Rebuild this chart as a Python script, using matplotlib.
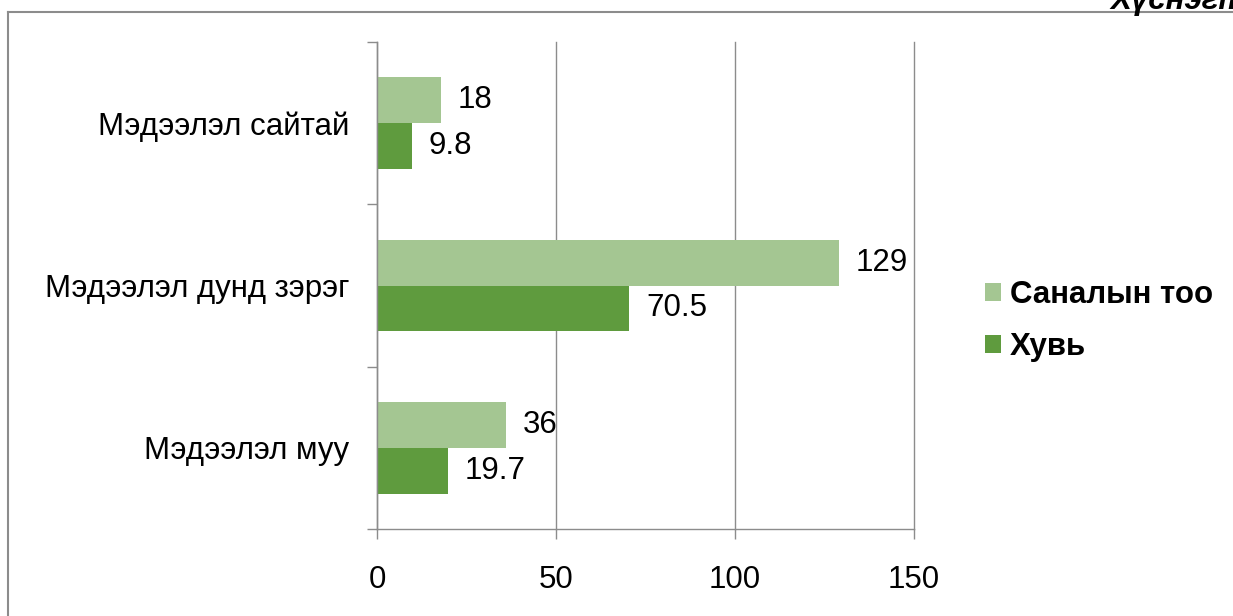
import numpy as np
import matplotlib
matplotlib.use('Agg')
import matplotlib.pyplot as plt
from matplotlib.lines import Line2D

plt.rcParams['font.family'] = ['Liberation Sans', 'DejaVu Sans']

categories = ['Мэдээлэл сайтай', 'Мэдээлэл дунд зэрэг', 'Мэдээлэл муу']
votes = [18, 129, 36]
percent = [9.8, 70.5, 19.7]
series_names = ['Саналын тоо', 'Хувь']
xticks = [0, 50, 100, 150]

light = '#A4C692'
dark = '#5F9B3E'
gray = '#8C8C8C'
fs = 22.5

fig = plt.figure(figsize=(12.33, 6.16), dpi=100)
ax = fig.add_axes([377/1233, 1-529/616, (914-377)/1233, (529-42)/616])

y = np.arange(len(categories))
h = 0.283
b1 = ax.barh(y - h/2, votes, height=h, color=light, label=series_names[0])
b2 = ax.barh(y + h/2, percent, height=h, color=dark, label=series_names[1])

for bars, vals in ((b1, votes), (b2, percent)):
    for r, v in zip(bars, vals):
        ax.annotate(f'{v:g}', (r.get_width(), r.get_y() + r.get_height()/2),
                    xytext=(12, 0), textcoords='offset points',
                    ha='left', va='center', fontsize=fs)

ax.set_xlim(0, 150)
ax.set_ylim(2.5, -0.5)
ax.set_xticks(xticks)
ax.set_yticks(y)
ax.set_yticklabels(categories)
ax.set_yticks([-0.5, 0.5, 1.5, 2.5], minor=True)
ax.tick_params(axis='y', which='major', length=0, pad=20, labelsize=fs)
ax.tick_params(axis='y', which='minor', length=7, color=gray, width=1)
ax.tick_params(axis='x', length=7, color=gray, width=1, pad=19, labelsize=fs)
ax.grid(axis='x', color=gray, lw=1)
for gl in ax.get_xgridlines():
    gl.set_clip_on(False)
ax.set_axisbelow(True)
for s in ('top', 'right'):
    ax.spines[s].set_visible(False)
for s in ('left', 'bottom'):
    ax.spines[s].set_color(gray)
    ax.spines[s].set_linewidth(1)

leg = fig.legend(handles=[b1, b2], loc='center left', bbox_to_anchor=(985/1233, 1-321/616),
                 frameon=False, prop={'weight': 'bold', 'size': fs},
                 borderpad=0, borderaxespad=0,
                 handlelength=0.5, handleheight=0.5, handletextpad=0.3, labelspacing=0.72)

# outer frame (cut off on right and bottom)
fig.add_artist(Line2D([8/1233, 1], [1-12/616, 1-12/616], color=gray, lw=1.5))
fig.add_artist(Line2D([8/1233, 8/1233], [0, 1-12/616], color=gray, lw=1.5))

fig.text(1110/1233, 1 - 9/616, 'Хүснэгт', ha='left', va='baseline',
         fontsize=fs, fontweight='bold', fontstyle='italic')

fig.savefig('out.png', dpi=100)
